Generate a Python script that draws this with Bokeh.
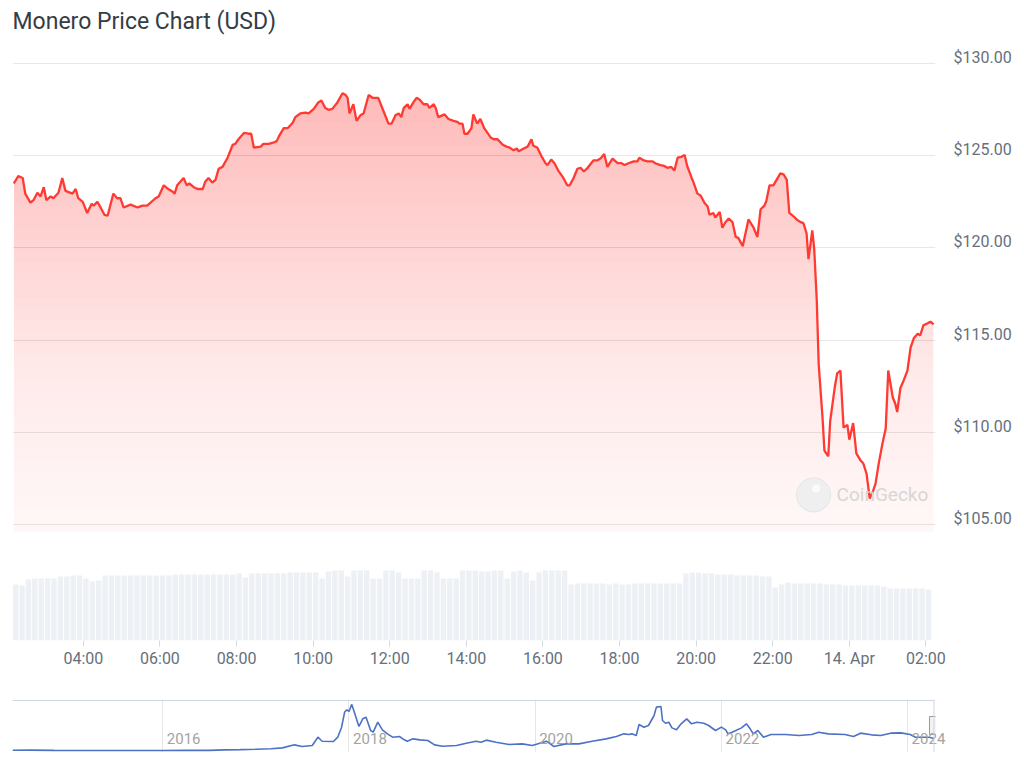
import numpy as np
import pandas as pd
from bokeh.plotting import figure
from bokeh.layouts import column
from bokeh.models import (Range1d, FixedTicker, DatetimeTickFormatter, Span, Grid)
from bokeh.core.properties import value
from bokeh.embed import file_html
from bokeh.resources import INLINE

TITLE = "Monero Price Chart (USD)"
START = "2024-04-13 02:09"

# minutes after START, and price in USD
minutes = [2, 9, 16, 20, 28, 33, 39, 44, 49, 53, 60, 64, 72, 78, 83, 94, 99, 103, 110, 117,
           124, 127, 133, 138, 144, 149, 158, 164, 169, 174, 185, 196, 204, 211, 224, 229, 237, 244, 251, 254,
           258, 268, 273, 277, 284, 290, 298, 302, 307, 313, 318, 323, 329, 337, 345, 349, 354, 363, 370, 374,
           378, 389, 393, 401, 407, 414, 418, 425, 431, 439, 443, 451, 459, 464, 472, 479, 484, 490, 495, 501,
           509, 517, 522, 525, 528, 534, 539, 545, 550, 558, 564, 573, 581, 589, 594, 600, 605, 609, 613, 619,
           622, 628, 633, 638, 644, 650, 653, 660, 663, 667, 677, 683, 691, 697, 700, 705, 708, 713, 719, 722,
           728, 733, 739, 749, 754, 760, 768, 774, 779, 785, 790, 793, 801, 807, 813, 816, 822, 830, 835, 838,
           844, 849, 855, 863, 869, 873, 879, 885, 890, 895, 901, 910, 916, 921, 927, 932, 940, 948, 954, 959,
           965, 973, 979, 982, 989, 995, 1003, 1007, 1015, 1021, 1026, 1032, 1037, 1042, 1048, 1053, 1057, 1064, 1067, 1073,
           1078, 1084, 1089, 1092, 1098, 1101, 1108, 1112, 1117, 1122, 1128, 1133, 1137, 1144, 1153, 1161, 1167, 1172, 1178, 1181,
           1186, 1192, 1197, 1203, 1208, 1213, 1217, 1224, 1230, 1235, 1239, 1244, 1247, 1253, 1256, 1260, 1263, 1269, 1272, 1278,
           1281, 1288, 1292, 1297, 1302, 1308, 1311, 1317, 1322, 1328, 1333, 1338, 1343, 1347, 1352, 1357, 1363, 1368, 1372, 1379,
           1383, 1386, 1391, 1396, 1402, 1407, 1412, 1418, 1422, 1427, 1433, 1438, 1443]
prices = [123.5, 123.9, 123.8, 122.95, 122.46, 122.6, 123.0, 122.8, 123.3, 122.6, 122.8, 122.7, 123.0, 123.8, 123.1, 122.95, 123.2, 122.7, 122.5, 121.9,
          122.4, 122.3, 122.5, 122.2, 121.8, 121.75, 122.95, 122.7, 122.7, 122.2, 122.35, 122.2, 122.3, 122.3, 122.7, 122.8, 123.4, 123.2, 123.05, 122.95,
          123.4, 123.8, 123.4, 123.5, 123.3, 123.2, 123.2, 123.6, 123.8, 123.55, 123.7, 124.3, 124.4, 124.9, 125.6, 125.65, 125.9, 126.25, 126.2, 126.2,
          125.45, 125.5, 125.65, 125.65, 125.7, 125.8, 126.1, 126.5, 126.5, 126.8, 127.1, 127.3, 127.35, 127.3, 127.55, 127.9, 128.0, 127.6, 127.5, 127.55,
          127.9, 128.4, 128.3, 128.15, 127.3, 127.8, 126.9, 127.2, 127.3, 128.3, 128.15, 128.15, 127.45, 126.75, 126.75, 127.2, 127.3, 127.1, 127.6, 127.8,
          127.55, 127.9, 128.15, 128.05, 127.8, 127.8, 127.6, 127.8, 127.6, 127.1, 127.25, 127.0, 126.9, 126.85, 126.75, 126.75, 126.2, 126.2, 126.5, 127.25,
          126.75, 127.0, 126.5, 126.0, 125.9, 125.9, 125.6, 125.5, 125.45, 125.3, 125.4, 125.25, 125.4, 125.5, 125.9, 125.55, 125.45, 124.9, 124.6, 124.5,
          124.8, 124.6, 124.2, 123.8, 123.4, 123.4, 123.8, 124.3, 124.35, 124.15, 124.35, 124.75, 124.75, 124.85, 125.1, 124.4, 124.85, 124.6, 124.6, 124.5,
          124.6, 124.7, 124.7, 124.9, 124.75, 124.7, 124.7, 124.6, 124.5, 124.45, 124.35, 124.4, 124.2, 124.9, 124.95, 125.05, 124.45, 123.8, 123.55, 122.95,
          122.85, 122.45, 122.25, 121.8, 121.9, 121.65, 121.95, 121.1, 121.4, 121.6, 121.4, 120.6, 120.55, 120.1, 121.55, 121.1, 120.6, 122.1, 122.3, 122.55,
          123.4, 123.4, 123.7, 124.05, 124.0, 123.7, 121.9, 121.7, 121.5, 121.4, 121.35, 120.8, 119.4, 120.95, 119.95, 117.15, 113.7, 110.8, 109.0, 108.7,
          110.6, 112.4, 113.2, 113.35, 110.25, 110.4, 109.6, 110.5, 108.85, 108.5, 108.3, 107.75, 106.4, 106.7, 107.2, 108.3, 109.4, 110.2, 113.35, 111.9,
          111.55, 111.1, 112.4, 112.8, 113.35, 114.6, 115.1, 115.35, 115.25, 115.8, 115.9, 116.0, 115.85]

# relative traded volume, one bar per 10 minutes from START
volume = [56, 55, 61, 62, 62, 62, 62, 64, 64, 65,
          65, 62, 59, 60, 65, 65, 65, 65, 65, 65,
          65, 65, 65, 65, 65, 66, 66, 66, 66, 66,
          66, 66, 66, 66, 66, 67, 63, 67, 67, 67,
          67, 67, 67, 68, 68, 68, 68, 68, 62, 69,
          70, 70, 64, 70, 70, 70, 62, 62, 70, 70,
          68, 62, 62, 62, 70, 70, 68, 62, 62, 62,
          70, 70, 70, 69, 69, 70, 70, 62, 69, 70,
          68, 60, 68, 70, 70, 70, 70, 56, 57, 57,
          57, 57, 57, 56, 57, 56, 56, 57, 57, 57,
          57, 57, 57, 57, 57, 67, 68, 68, 67, 67,
          66, 66, 66, 65, 65, 65, 65, 64, 64, 53,
          56, 58, 57, 57, 57, 57, 57, 56, 56, 56,
          55, 55, 55, 55, 55, 55, 54, 52, 52, 52,
          52, 52, 52, 51]
VOLUME_STEP_MIN = 10

tick_times = ["2024-04-13 04:00", "2024-04-13 06:00", "2024-04-13 08:00", "2024-04-13 10:00",
              "2024-04-13 12:00", "2024-04-13 14:00", "2024-04-13 16:00", "2024-04-13 18:00",
              "2024-04-13 20:00", "2024-04-13 22:00", "2024-04-14 00:00", "2024-04-14 02:00"]
tick_labels = ["04:00", "06:00", "08:00", "10:00", "12:00", "14:00", "16:00", "18:00",
               "20:00", "22:00", "14. Apr", "02:00"]
price_ticks = [105, 110, 115, 120, 125, 130]

# navigator: full price history
nav_dates = ["2014-05-22", "2014-08-01", "2014-11-01", "2015-02-01", "2015-06-01", "2015-10-01",
             "2016-01-01", "2016-04-01", "2016-07-01", "2016-09-01", "2016-11-01",
             "2017-01-01", "2017-03-01", "2017-04-15", "2017-06-01", "2017-07-01", "2017-08-10",
             "2017-09-01", "2017-09-18", "2017-11-01", "2017-11-18", "2017-12-03", "2017-12-15", "2017-12-24",
             "2018-01-01", "2018-01-12", "2018-01-24", "2018-02-09", "2018-02-24", "2018-03-09", "2018-03-27",
             "2018-04-06", "2018-04-24", "2018-05-12", "2018-06-01", "2018-06-21", "2018-07-18", "2018-08-06",
             "2018-08-18", "2018-09-09", "2018-10-06", "2018-11-06", "2018-12-03",
             "2019-01-03", "2019-02-27", "2019-04-06", "2019-05-15", "2019-06-03", "2019-06-24", "2019-08-01",
             "2019-09-21", "2019-11-12", "2019-12-21",
             "2020-02-15", "2020-03-15", "2020-05-01", "2020-06-21", "2020-08-12", "2020-10-06", "2020-11-15",
             "2020-12-15",
             "2021-01-03", "2021-01-15", "2021-02-01", "2021-02-12", "2021-03-03", "2021-03-21", "2021-04-12",
             "2021-04-21", "2021-05-09", "2021-05-15", "2021-05-27", "2021-06-09", "2021-06-21", "2021-07-09",
             "2021-07-27", "2021-08-18", "2021-09-06", "2021-09-27", "2021-10-24", "2021-11-12", "2021-12-09",
             "2022-01-01", "2022-01-18", "2022-01-27", "2022-02-12", "2022-03-21", "2022-04-09", "2022-04-24",
             "2022-05-06", "2022-05-24", "2022-06-15", "2022-07-15", "2022-09-09", "2022-11-01", "2022-12-21",
             "2023-01-18", "2023-02-24", "2023-05-01", "2023-06-03", "2023-07-01", "2023-08-12", "2023-09-18",
             "2023-10-27", "2023-12-06",
             "2024-01-12", "2024-02-01", "2024-03-09", "2024-03-27", "2024-04-14"]
nav_prices = [2.5, 4, 1.5, 0.5, 0.6, 0.5,
              0.5, 1.2, 2, 7, 9,
              13, 18, 27, 58, 41, 51,
              136, 95, 92, 136, 238, 391, 415,
              398, 470, 374, 245, 323, 340, 204,
              187, 289, 211, 170, 136, 143, 109,
              95, 119, 109, 102, 58,
              44, 51, 75, 95, 85, 106, 85,
              61, 68, 51,
              95, 41, 68, 68, 95, 119, 143,
              170,
              163, 170, 153, 265, 238, 255, 357,
              442, 449, 306, 278, 289, 231, 211,
              272, 323, 272, 289, 278, 255, 204,
              238, 211, 170, 187, 231, 272, 221,
              170, 204, 136, 163, 163, 153, 163,
              187, 170, 163, 143, 177, 160, 153,
              177, 180,
              163, 136, 136, 136, 122]
nav_years = ["2016", "2018", "2020", "2022", "2024"]

assert len(minutes) == len(prices)
assert len(nav_dates) == len(nav_prices)


def ms(s):
    return pd.Timestamp(s).value / 1e6


MIN = 60000.0
FONT = "Roboto"
RED = "#ff3a33"
LABEL = "#66707c"
W = 1016
BL, BR = 12, 81
FRAME_W = W - BL - BR

t0 = ms(START)
xs = t0 + np.array(minutes, float) * MIN
ys = np.array(prices, float)
x_end = t0 + (minutes[-1] + 3) * MIN

# ---- title strip ----
head = figure(width=W, height=46, toolbar_location=None, output_backend="svg",
              x_axis_location=None, y_axis_location=None, title=TITLE,
              min_border_left=BL, min_border_right=BR, min_border_top=0, min_border_bottom=0)
head.outline_line_color = None
for g in head.grid:
    g.visible = False
head.title.text_font = FONT
head.title.text_font_size = "23px"
head.title.text_font_style = "normal"
head.title.text_color = "#333d47"
head.title.align = "left"
head.title.standoff = 10

# ---- main price chart ----
p = figure(width=W, height=634, x_axis_type="datetime", y_axis_location="right",
           x_range=Range1d(t0, x_end), y_range=Range1d(98.7, 130.5),
           toolbar_location=None, output_backend="svg",
           min_border_left=BL, min_border_right=BR, min_border_top=8, min_border_bottom=40)
p.outline_line_color = None
p.background_fill_color = "white"
p.border_fill_color = "white"

# volume bars (one unit = one pixel of the frame height)
p.extra_y_ranges = {"vol": Range1d(0, 586)}
vol_x = t0 + (np.arange(len(volume)) * VOLUME_STEP_MIN + VOLUME_STEP_MIN / 2) * MIN
p.vbar(x=vol_x, top=volume, width=VOLUME_STEP_MIN * MIN * 0.84, y_range_name="vol",
       fill_color="#edf0f4", line_color=None)

# gradient area fill built from stacked translucent layers
base = 104.6
n_layers = 40
levels = np.linspace(base, 130.0, n_layers, endpoint=False)
targets = 0.04 + (levels - base) / (130.0 - base) * 0.21
prev = 0.0
for lo, a in zip(levels, targets):
    alpha = 1 - (1 - a) / (1 - prev)
    prev = a
    p.varea(x=xs, y1=lo, y2=np.maximum(ys, lo), fill_color=RED, fill_alpha=alpha)

p.line(xs, ys, line_color=RED, line_width=2.3)

# watermark
wm_y = 106.6
p.scatter(x=[t0 + 1255 * MIN], y=[wm_y], size=34, fill_color="#efefef", line_color="#e4e4e4")
p.scatter(x=[t0 + 1259 * MIN], y=[wm_y + 0.35], size=8, fill_color="#fafafa", line_color=None)
p.text(x=[t0 + 1291 * MIN], y=[wm_y], text=["CoinGecko"], text_font=value(FONT),
       text_font_size="19px", text_color="#d6d6d6", text_baseline="middle", text_align="left")

# right price axis: labels sit slightly above their grid lines
label_lift = 0.33
label_pos = [t + label_lift for t in price_ticks]
p.yaxis.ticker = FixedTicker(ticks=label_pos)
p.yaxis.major_label_overrides = {pos: "${:.2f}".format(t) for pos, t in zip(label_pos, price_ticks)}
p.yaxis.axis_line_color = None
p.yaxis.major_tick_line_color = None
p.yaxis.minor_tick_line_color = None
p.yaxis.major_label_standoff = 12
p.yaxis.major_label_text_font = FONT
p.yaxis.major_label_text_font_size = "16px"
p.yaxis.major_label_text_color = LABEL
p.ygrid.ticker = FixedTicker(ticks=price_ticks)
p.ygrid.grid_line_color = "#e8e8e8"
p.xgrid.visible = False

tick_ms = [ms(t) for t in tick_times]
p.xaxis.ticker = FixedTicker(ticks=tick_ms)
p.xaxis.formatter = DatetimeTickFormatter(hours="%H:%M", days="%H:%M")
p.xaxis.major_label_overrides = dict(zip(tick_ms, tick_labels))
p.xaxis.axis_line_color = None
p.xaxis.major_tick_line_color = "#d5dae1"
p.xaxis.major_tick_in = 0
p.xaxis.major_tick_out = 6
p.xaxis.minor_tick_line_color = None
p.xaxis.major_label_standoff = 2
p.xaxis.major_label_text_font = FONT
p.xaxis.major_label_text_font_size = "16px"
p.xaxis.major_label_text_color = LABEL

# ---- navigator ----
nav_start = ms("2014-05-22")
nav_end = ms("2024-04-20")
sel_end = ms("2024-04-14 02:09")
nav_x = [ms(d) for d in nav_dates]
year_ms = [ms(y + "-01-01") for y in nav_years]

nv = figure(width=W, height=82, x_axis_type="datetime", x_axis_location="below", y_axis_location=None,
            x_range=Range1d(nav_start, nav_end), y_range=Range1d(-20, 520),
            toolbar_location=None, output_backend="svg",
            min_border_left=BL, min_border_right=BR, min_border_top=19, min_border_bottom=10)
nv.outline_line_color = None
nv.background_fill_color = "white"
nv.border_fill_color = "white"
for g in nv.grid:
    g.visible = False
nv.add_layout(Grid(dimension=0, ticker=FixedTicker(ticks=year_ms), grid_line_color="#e6e6e6"))

# year labels: axis labels pulled up into the navigator, just right of each year line
ms_per_px = (nav_end - nav_start) / FRAME_W
year_lab = [y + 21 * ms_per_px for y in year_ms]
nv.xaxis.ticker = FixedTicker(ticks=year_lab)
nv.xaxis.major_label_overrides = dict(zip(year_lab, nav_years))
nv.xaxis.axis_line_color = None
nv.xaxis.major_tick_line_color = None
nv.xaxis.minor_tick_line_color = None
nv.xaxis.major_tick_out = 0
nv.xaxis.major_tick_in = 0
nv.xaxis.major_label_standoff = -20
nv.xaxis.major_label_text_font = FONT
nv.xaxis.major_label_text_font_size = "15px"
nv.xaxis.major_label_text_color = "#a3a3a3"

nv.line(nav_x, nav_prices, line_color="#4c72c6", line_width=1.6)
nv.segment(x0=[nav_start], y0=[510], x1=[sel_end], y1=[510], line_color="#cdd5e3", line_width=1)
nv.add_layout(Span(location=sel_end, dimension="height", line_color="#cdd5e3", line_width=1))
nv.rect(x=[sel_end], y=[255], width=9, height=18, width_units="screen", height_units="screen",
        fill_color="#f2f2f2", line_color="#999999")

layout = column(head, p, nv)
open("out.html", "w").write(file_html(layout, INLINE))
